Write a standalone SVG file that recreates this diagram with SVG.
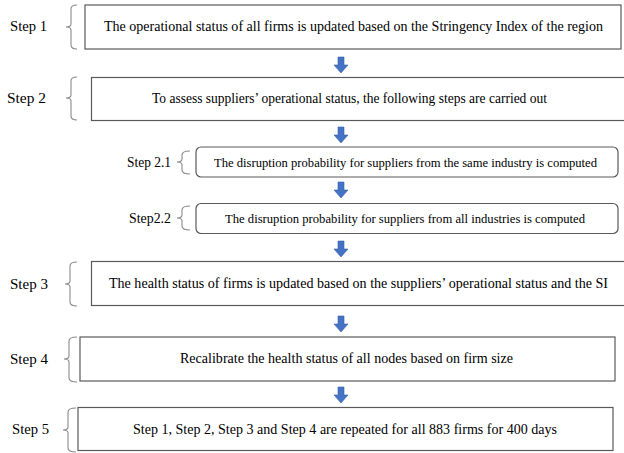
<svg xmlns="http://www.w3.org/2000/svg" width="624" height="453" viewBox="0 0 624 453">
<style>
.box{fill:#fff;stroke:#5a5a5a;stroke-width:1.2}
.br{fill:none;stroke:#8a8a8a;stroke-width:1.1}
text{font-family:'Liberation Serif','Times New Roman',serif;fill:#000}
.t{font-size:14px;text-anchor:middle}
.ts{font-size:13px;text-anchor:middle}
.lb{font-size:14.5px}
.ar{fill:#4472C4;stroke:#3a63ad;stroke-width:0.6}
</style>
<defs>
<polygon id="arrow" class="ar" points="-3,0 3,0 3,8 7,8 0,16 -7,8 -3,8"/>
</defs>
<rect width="624" height="453" fill="#fff"/>
<g id="connectors">
<use href="#arrow" x="341" y="57"/>
<use href="#arrow" x="341" y="127"/>
<use href="#arrow" x="341" y="182"/>
<use href="#arrow" x="341" y="241"/>
<use href="#arrow" x="341" y="316"/>
<use href="#arrow" x="341" y="387"/>
</g>
<g id="step1">
<text class="lb" x="10" y="31" textLength="37" lengthAdjust="spacingAndGlyphs">Step 1</text>
<path class="br" d="M77,5 Q71,5 71,9 L71,24 Q71,27 66,27 Q71,27 71,30 L71,45 Q71,49 77,49"/>
<rect class="box" x="85" y="5" width="536" height="44"/>
<text class="t" x="353.5" y="31" textLength="499" lengthAdjust="spacingAndGlyphs">The operational status of all firms is updated based on the Stringency Index of the region</text>
</g>
<g id="step2">
<text class="lb" x="7" y="103" textLength="39" lengthAdjust="spacingAndGlyphs">Step 2</text>
<path class="br" d="M77,77 Q71,77 71,81 L71,95 Q71,98 66,98 Q71,98 71,101 L71,116 Q71,120 77,120"/>
<rect class="box" x="91.5" y="77.5" width="540" height="43"/>
<text class="t" x="349.5" y="103" textLength="395" lengthAdjust="spacingAndGlyphs">To assess suppliers’ operational status, the following steps are carried out</text>
</g>
<g id="step2_1">
<text class="lb" x="127" y="167" textLength="44" lengthAdjust="spacingAndGlyphs">Step 2.1</text>
<path class="br" d="M190,151 Q182,151 182,155 L182,159 Q182,162 177,162 Q182,162 182,165 L182,170 Q182,174 190,174"/>
<rect class="box" x="196" y="147" width="422" height="30" rx="5"/>
<text class="ts" x="405.5" y="166.5" textLength="383" lengthAdjust="spacingAndGlyphs">The disruption probability for suppliers from the same industry is computed</text>
</g>
<g id="step2_2">
<text class="lb" x="129" y="223" textLength="42" lengthAdjust="spacingAndGlyphs">Step2.2</text>
<path class="br" d="M190,206 Q182,206 182,210 L182,215 Q182,218 177,218 Q182,218 182,221 L182,226 Q182,230 190,230"/>
<rect class="box" x="196" y="203.5" width="422" height="30" rx="5"/>
<text class="ts" x="405" y="222.5" textLength="360" lengthAdjust="spacingAndGlyphs">The disruption probability for suppliers from all industries is computed</text>
</g>
<g id="step3">
<text class="lb" x="10" y="289" textLength="38" lengthAdjust="spacingAndGlyphs">Step 3</text>
<path class="br" d="M77,262 Q70,262 70,266 L70,281 Q70,284 65,284 Q70,284 70,287 L70,302 Q70,306 77,306"/>
<rect class="box" x="91.5" y="261.5" width="540" height="44"/>
<text class="t" x="358.5" y="288" textLength="499" lengthAdjust="spacingAndGlyphs">The health status of firms is updated based on the suppliers’ operational status and the SI</text>
</g>
<g id="step4">
<text class="lb" x="10" y="364" textLength="38" lengthAdjust="spacingAndGlyphs">Step 4</text>
<path class="br" d="M77,337 Q69,337 69,341 L69,356 Q69,359 64,359 Q69,359 69,362 L69,378 Q69,382 77,382"/>
<rect class="box" x="80" y="337" width="535" height="44"/>
<text class="t" x="346.5" y="363" textLength="333" lengthAdjust="spacingAndGlyphs">Recalibrate the health status of all nodes based on firm size</text>
</g>
<g id="step5">
<text class="lb" x="12" y="434" textLength="37" lengthAdjust="spacingAndGlyphs">Step 5</text>
<path class="br" d="M76,408 Q68,408 68,412 L68,427 Q68,430 63,430 Q68,430 68,433 L68,448 Q68,452 76,452"/>
<rect class="box" x="78" y="407.5" width="535" height="43"/>
<text class="t" x="345" y="434" textLength="424" lengthAdjust="spacingAndGlyphs">Step 1, Step 2, Step 3 and Step 4 are repeated for all 883 firms for 400 days</text>
</g>
</svg>
